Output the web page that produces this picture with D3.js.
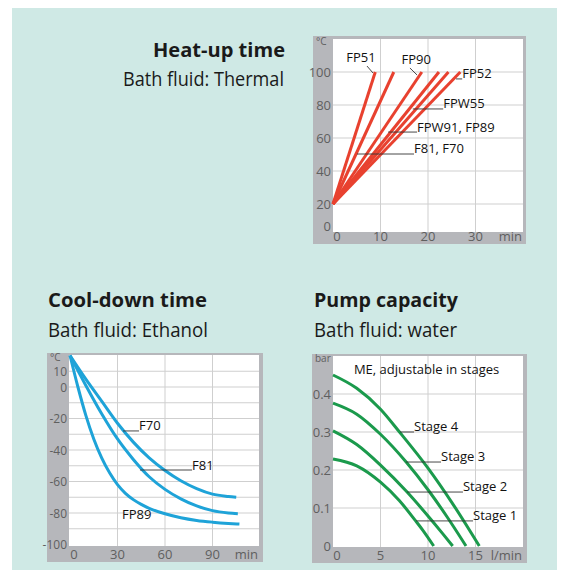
<!DOCTYPE html>
<html>
<head>
<meta charset="utf-8">
<script src="https://cdn.jsdelivr.net/npm/d3@7"></script>
<style>
  body { margin: 0; background: #fff; }
  svg { display: block; font-family: "Open Sans", sans-serif; }
</style>
</head>
<body>
<div id="container"></div>
<script>
// ---- data ----

// heat-up: every line starts at 20 °C, minutes needed to reach 100 °C
var heatStart = [0, 20];
var heatEndMinutes = [8.9, 12.8, 18.7, 22.3, 24.3, 26.8];
var heatXTicks = [0, 10, 20, 30];
var heatYTicks = [0, 20, 40, 60, 80, 100];

// cool-down curves, [minutes, °C]
var coolF70 = [[0, 20], [10, 5], [20, -9], [30, -23], [40, -35], [50, -45], [60, -53], [70, -59.5], [80, -64.5], [90, -68], [100, -69.5], [105, -70]];
var coolF81 = [[0, 20], [10, 1], [20, -17], [30, -33], [40, -46], [50, -57], [60, -65], [70, -71], [80, -75.5], [90, -78.5], [100, -80], [106, -80.5]];
var coolFP89 = [[0, 20], [5, 0], [10, -18], [15, -33], [20, -45], [25, -54.5], [30, -62], [35, -67.5], [40, -71.5], [45, -74.5], [50, -77], [60, -80.5], [70, -83], [80, -84.7], [90, -85.8], [100, -86.6], [107, -87]];
var coolXTicks = [0, 30, 60, 90];
var coolYTicks = [10, 0, -20, -40, -60, -80, -100];
var coolYGrid = [10, 0, -10, -20, -30, -40, -50, -60, -70, -80, -90];

// pump capacity, [l/min, bar]
var stage4 = [[0, 0.45], [2.5, 0.415], [5, 0.36], [7, 0.30], [10, 0.205], [12.5, 0.115], [15.4, 0]];
var stage3 = [[0, 0.376], [2.5, 0.347], [5, 0.294], [7.7, 0.221], [10, 0.148], [12, 0.077], [14, 0]];
var stage2 = [[0, 0.303], [2.5, 0.267], [5, 0.213], [7.8, 0.142], [10, 0.079], [11.5, 0.034], [12.6, 0]];
var stage1 = [[0, 0.229], [2.5, 0.211], [5, 0.168], [7, 0.119], [8.7, 0.066], [9.5, 0.04], [10.6, 0]];
var pumpXTicks = [0, 5, 10, 15];
var pumpYTicks = [0, 0.1, 0.2, 0.3, 0.4];

var width = 561, height = 570;
var gridColor = "#cfcfcf", tickColor = "#5f5f5f";

var svg = d3.select("#container").append("svg")
  .attr("width", width)
  .attr("height", height);

// mint background panel
svg.append("rect")
  .attr("x", 12).attr("y", 8)
  .attr("width", 545).attr("height", 562)
  .attr("fill", "#cfe9e5");

function title(x, y, anchor, bold, txt, len) {
  svg.append("text")
    .attr("x", x).attr("y", y)
    .attr("text-anchor", anchor)
    .attr("font-size", 20)
    .attr("font-weight", bold ? 700 : 400)
    .attr("fill", "#1a1a1a")
    .attr("textLength", len)
    .attr("lengthAdjust", "spacingAndGlyphs")
    .text(txt);
}

title(285, 57, "end", true, "Heat-up time", 132);
title(284, 85.5, "end", false, "Bath fluid: Thermal", 161);
title(48, 307, "start", true, "Cool-down time", 159);
title(48, 337, "start", false, "Bath fluid: Ethanol", 160);
title(314, 307, "start", true, "Pump capacity", 144);
title(314, 337, "start", false, "Bath fluid: water", 143);

// grey frame + white plot with gridlines and tick labels
function frame(box, plot, x, y, xTicks, yTicks, yGrid, yFmt, xUnit, yUnit, ySize) {
  svg.append("rect")
    .attr("x", box[0]).attr("y", box[1])
    .attr("width", box[2] - box[0]).attr("height", box[3] - box[1])
    .attr("fill", "#b6b7bb");
  svg.append("rect")
    .attr("x", plot[0]).attr("y", plot[1])
    .attr("width", plot[2] - plot[0]).attr("height", plot[3] - plot[1])
    .attr("fill", "#fff");

  var g = svg.append("g");
  g.selectAll(".hg").data(yGrid)
    .enter().append("line")
    .attr("x1", plot[0]).attr("x2", plot[2])
    .attr("y1", function (d) { return y(d); })
    .attr("y2", function (d) { return y(d); })
    .attr("stroke", gridColor);
  g.selectAll(".vg").data(xTicks.filter(function (d) { return d !== 0; }))
    .enter().append("line")
    .attr("y1", plot[1]).attr("y2", plot[3])
    .attr("x1", function (d) { return x(d); })
    .attr("x2", function (d) { return x(d); })
    .attr("stroke", gridColor);

  g.selectAll(".yl").data(yTicks).enter().append("text")
    .attr("x", plot[0] - 2)
    .attr("y", function (d) { return y(d) + 4.5; })
    .attr("text-anchor", "end")
    .attr("font-size", ySize || 13)
    .attr("fill", tickColor)
    .text(yFmt);
  g.selectAll(".xl").data(xTicks).enter().append("text")
    .attr("x", function (d, i) { return x(d) + (i === 0 ? 4 : 0); })
    .attr("y", box[3] - 3)
    .attr("text-anchor", "middle")
    .attr("font-size", 13)
    .attr("fill", tickColor)
    .text(function (d) { return d; });
  g.append("text")
    .attr("x", plot[2] - 1).attr("y", box[3] - 3)
    .attr("text-anchor", "end")
    .attr("font-size", 13)
    .attr("fill", tickColor)
    .text(xUnit);
  g.append("text")
    .attr("x", box[0] + 3).attr("y", plot[1] + 6)
    .attr("font-size", 10)
    .attr("fill", tickColor)
    .text(yUnit);
}

function note(x, y, pts, txt, anchor) {
  if (pts) {
    svg.append("line")
      .attr("x1", x(pts[0][0])).attr("y1", y(pts[0][1]))
      .attr("x2", x(pts[1][0])).attr("y2", y(pts[1][1]))
      .attr("stroke", "#333").attr("stroke-width", 0.9);
  }
  svg.append("text")
    .attr("x", x(pts ? pts[2][0] : txt[1][0]))
    .attr("y", y(pts ? pts[2][1] : txt[1][1]))
    .attr("text-anchor", anchor || "start")
    .attr("font-size", 13)
    .attr("fill", "#111")
    .text(pts ? txt : txt[0]);
}

// ---- heat-up time ----
var hx = d3.scaleLinear().domain([0, 40]).range([333, 523]);
var hy = d3.scaleLinear().domain([0, 20, 100]).range([226, 204, 72]);
frame([313, 36, 526, 244], [333, 39, 523, 232], hx, hy, heatXTicks, heatYTicks,
  heatYTicks.filter(function (d) { return d > 0; }), function (d) { return d; }, "min", "°C");

var heatLine = d3.line().x(function (d) { return hx(d[0]); }).y(function (d) { return hy(d[1]); });
svg.append("g").selectAll("path")
  .data(heatEndMinutes)
  .enter().append("path")
  .attr("d", function (t) { return heatLine([heatStart, [t, 100]]); })
  .attr("fill", "none")
  .attr("stroke", "#e8412f")
  .attr("stroke-width", 3);

note(hx, hy, [[7.16, 103.6], [8.42, 99.4], [5.9, 106.1]], "FP51", "middle");
note(hx, hy, [[16.2, 102.4], [17.7, 98.2], [17.5, 104.8]], "FP90", "middle");
note(hx, hy, [[25.9, 95.8], [27.2, 95.8], [27.2, 96.4]], "FP52");
note(hx, hy, [[16.8, 77.6], [23.2, 77.6], [23.2, 78.2]], "FPW55");
note(hx, hy, [[11.6, 63.6], [17.7, 63.6], [17.7, 63.9]], "FPW91, FP89");
note(hx, hy, [[5.05, 50.3], [17.05, 50.3], [17.05, 50.9]], "F81, F70");

// ---- cool-down time ----
var cx = d3.scaleLinear().domain([0, 120]).range([70, 260]);
var cy = d3.scaleLinear().domain([-100, 20]).range([544.5, 355.5]);
frame([47, 353, 263, 562], [69, 355, 259, 546], cx, cy, coolXTicks, coolYTicks, coolYGrid,
  function (d) { return d; }, "min", "°C", 12);

var coolLine = d3.line().curve(d3.curveMonotoneX)
  .x(function (d) { return cx(d[0]); }).y(function (d) { return cy(d[1]); });
svg.append("g").selectAll("path")
  .data([coolF70, coolF81, coolFP89])
  .enter().append("path")
  .attr("d", coolLine)
  .attr("fill", "none")
  .attr("stroke", "#1ea3d8")
  .attr("stroke-width", 3);

note(cx, cy, [[33.5, -27.9], [43.6, -27.9], [43.6, -27.6]], "F70");
note(cx, cy, [[44.2, -52.7], [77.1, -52.7], [77.1, -52.4]], "F81");
note(cx, cy, null, ["FP89", [32.8, -84]]);

// ---- pump capacity ----
var px = d3.scaleLinear().domain([0, 20]).range([333, 523]);
var py = d3.scaleLinear().domain([0, 0.5]).range([546, 356]);
frame([312, 354, 527, 563], [333, 356, 523, 547], px, py, pumpXTicks, pumpYTicks,
  pumpYTicks.filter(function (d) { return d > 0; }),
  function (d) { return d === 0 ? "0" : d3.format(".1f")(d); }, "l/min", "bar");

var pumpLine = d3.line().curve(d3.curveMonotoneX)
  .x(function (d) { return px(d[0]); }).y(function (d) { return py(d[1]); });
svg.append("g").selectAll("path")
  .data([stage4, stage3, stage2, stage1])
  .enter().append("path")
  .attr("d", pumpLine)
  .attr("fill", "none")
  .attr("stroke", "#1b9a4c")
  .attr("stroke-width", 3);

note(px, py, null, ["ME, adjustable in stages", [2.2, 0.453]]);
note(px, py, [[7.05, 0.30], [8.53, 0.30], [8.53, 0.303]], "Stage 4");
note(px, py, [[7.68, 0.221], [11.37, 0.221], [11.37, 0.224]], "Stage 3");
note(px, py, [[7.79, 0.142], [13.68, 0.142], [13.68, 0.145]], "Stage 2");
note(px, py, [[8.74, 0.066], [14.74, 0.066], [14.74, 0.068]], "Stage 1");
</script>
</body>
</html>
